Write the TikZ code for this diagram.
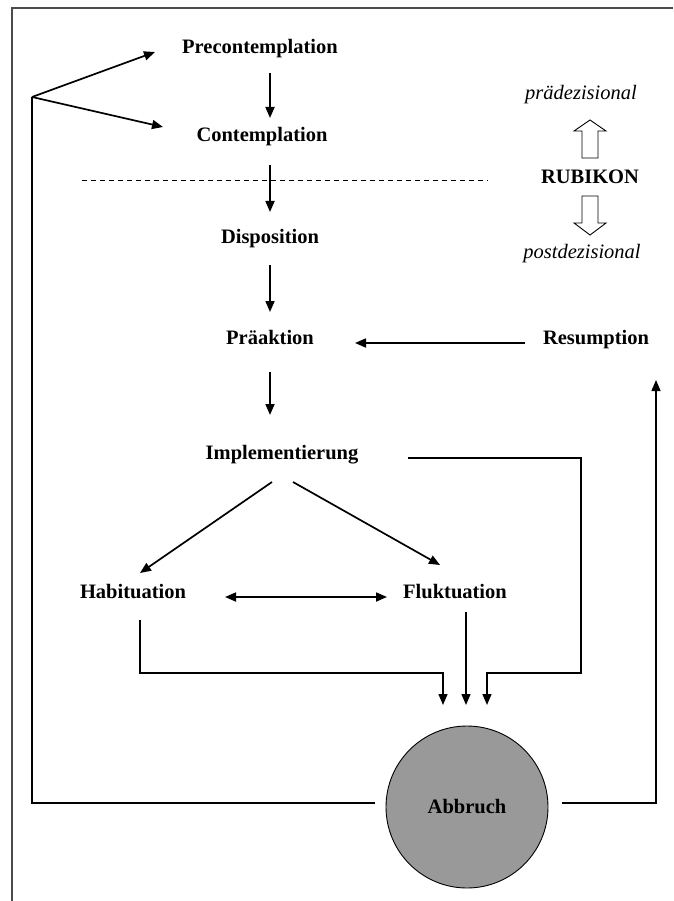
\documentclass[tikz,border=0pt]{standalone}
\usepackage{fontspec}
\setmainfont{Liberation Serif}
\usetikzlibrary{arrows.meta}
\begin{document}
\begin{tikzpicture}[x=1pt,y=-1pt,
  lbl/.style={font=\fontsize{20.5}{24}\selectfont\bfseries, inner sep=0pt, text height=16pt, text depth=2.5pt},
  itl/.style={font=\fontsize{20.5}{24}\selectfont\itshape, inner sep=0pt, text height=16pt, text depth=2.5pt},
  tip/.style={-{Triangle[length=11pt,width=9pt]}},
  arr/.style={line width=1.7pt, tip},
  darr/.style={line width=1.7pt, {Triangle[length=11pt,width=9pt]}-{Triangle[length=11pt,width=9pt]}},
  ln/.style={line width=1.4pt, line join=miter},
  blockarrow/.style={draw=black, line width=0.9pt, fill=white, line join=miter}]
\useasboundingbox (0,0) rectangle (673,901);
% frame
\draw[line width=1.3pt, black!70] (673,8) -- (12,8) -- (12,901);
% nodes
\node[lbl] (pre)  at (260,47)  {Precontemplation};
\node[lbl] (con)  at (262,135) {Contemplation};
\node[lbl] (disp) at (270,237) {Disposition};
\node[lbl] (prae) at (270,338) {Präaktion};
\node[lbl] (res)  at (596,338) {Resumption};
\node[lbl] (impl) at (282,453) {Implementierung};
\node[lbl] (hab)  at (133,592) {Habituation};
\node[lbl] (fluk) at (455,592) {Fluktuation};
\node[lbl] (rub)  at (590,177) {RUBIKON};
\node[itl] (praed) at (581,93) {prädezisional};
\node[itl] (postd) at (582,252) {postdezisional};
\node[circle, draw=black, line width=0.9pt, fill=black!40, minimum size=162pt, inner sep=0pt,
      font=\fontsize{20.5}{24}\selectfont\bfseries] (ab) at (467,807) {Abbruch};
% dashed Rubikon line
\draw[line width=1pt, dash pattern=on 5pt off 4pt] (82,181) -- (488,181);
% main column
\draw[arr] ([xshift=10pt,yshift=-26pt]pre.center) -- ([xshift=8pt,yshift=17pt]con.center);
\draw[arr] ([xshift=8pt,yshift=-30pt]con.center) -- ([yshift=25pt]disp.center);
\draw[arr] ([yshift=-28pt]disp.center) -- ([yshift=26pt]prae.center);
\draw[arr] ([yshift=-34pt]prae.center) -- ([xshift=-12pt,yshift=38pt]impl.center);
% resumption -> praeaktion
\draw[arr] ([xshift=-71pt,yshift=-5pt]res.center) -- ([xshift=85pt,yshift=-5pt]prae.center);
% implementierung -> habituation / fluktuation
\draw[arr] ([xshift=-10pt,yshift=-29pt]impl.center) -- ([xshift=7pt,yshift=19pt]hab.center);
\draw[arr] ([xshift=11pt,yshift=-29pt]impl.center) -- ([xshift=-15pt,yshift=27pt]fluk.center);
% habituation <-> fluktuation
\draw[darr] ([xshift=92pt,yshift=-5pt]hab.center) -- ([xshift=-68pt,yshift=-5pt]fluk.center);
% to Abbruch
\draw[ln, tip] ([xshift=126pt,yshift=-5pt]impl.center) -- (581,458) -- (581,673) -- (487,673) -- ([xshift=20pt,yshift=102pt]ab.center);
\draw[ln, tip] ([xshift=7pt,yshift=-28pt]hab.center) -- (140,673) -- (443,673) -- ([xshift=-24pt,yshift=102pt]ab.center);
\draw[ln, tip] ([xshift=11pt,yshift=-20pt]fluk.center) -- ([xshift=-1pt,yshift=102pt]ab.center);
% left loop back to start
\coordinate (fork) at (32,97);
\draw[ln] ([xshift=-92pt,yshift=4pt]ab.center) -- (32,803) -- (fork);
\draw[arr] (fork) -- ([xshift=-105pt,yshift=-5pt]pre.center);
\draw[arr] (fork) -- ([xshift=-99pt,yshift=8pt]con.center);
% right loop to resumption
\draw[ln, tip] ([xshift=95pt,yshift=4pt]ab.center) -- (656,803) -- ([xshift=60pt,yshift=-42pt]res.center);
% Rubikon block arrows
\draw[blockarrow] (582,158) -- (582,131) -- (574,131) -- (590,120) -- (606,131) -- (598,131) -- (598,158) -- cycle;
\draw[blockarrow] (582,196) -- (582,223) -- (574,223) -- (590,235) -- (606,223) -- (598,223) -- (598,196) -- cycle;
\end{tikzpicture}
\end{document}
